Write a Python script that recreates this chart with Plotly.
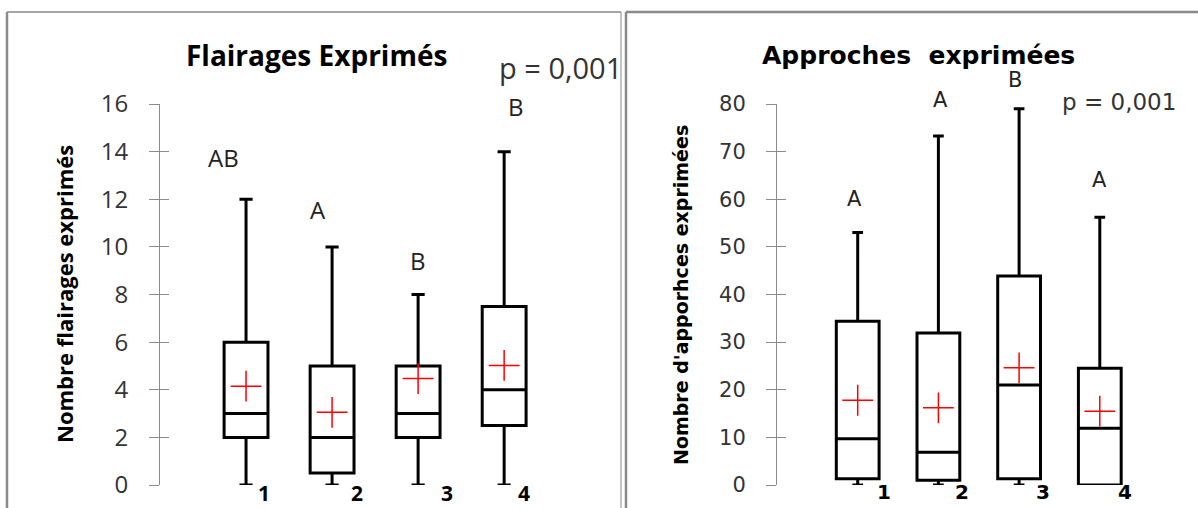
import plotly.graph_objects as go

W, H = 1198, 508

# ---- data: Flairages exprimés ----
groups = ["1", "2", "3", "4"]
fl_min = [0, 0, 0, 0]
fl_q1 = [2, 0.5, 2, 2.5]
fl_med = [3, 2, 3, 4]
fl_q3 = [6, 5, 5, 7.5]
fl_max = [12, 10, 8, 14]
fl_mean = [4.15, 3.05, 4.47, 5.02]
fl_letters = ["AB", "A", "B", "B"]

# ---- data: Approches exprimées ----
ap_min = [0, 0, 0, 0]
ap_q1 = [1.3, 1.0, 1.3, 0]
ap_med = [9.7, 6.9, 21.0, 11.9]
ap_q3 = [34.4, 31.9, 43.9, 24.5]
ap_max = [53, 73.3, 79, 56.2]
ap_mean = [17.8, 16.2, 24.6, 15.5]
ap_letters = ["A", "A", "B", "A"]

p_text = "p = 0,001"
cat_pos = [1, 2, 3, 4]


def px(x):
    return x / W


def py(y):
    return 1 - y / H


fig = go.Figure()

# box traces
for i in range(4):
    fig.add_trace(go.Box(
        x=[cat_pos[i]], q1=[fl_q1[i]], median=[fl_med[i]], q3=[fl_q3[i]],
        lowerfence=[fl_min[i]], upperfence=[fl_max[i]],
        width=0.51, whiskerwidth=0.3,
        fillcolor="white", line=dict(color="black", width=3),
        xaxis="x", yaxis="y", showlegend=False, hoverinfo="skip"))
    fig.add_trace(go.Box(
        x=[cat_pos[i]], q1=[ap_q1[i]], median=[ap_med[i]], q3=[ap_q3[i]],
        lowerfence=[ap_min[i]], upperfence=[ap_max[i]],
        width=0.53, whiskerwidth=0.25,
        fillcolor="white", line=dict(color="black", width=3),
        xaxis="x2", yaxis="y2", showlegend=False, hoverinfo="skip"))

# means as red crosses
mean_marker = dict(symbol="cross-thin", size=22, color="red",
                   line=dict(color="red", width=1.5))
fig.add_trace(go.Scatter(x=cat_pos, y=fl_mean, mode="markers", marker=mean_marker,
                         xaxis="x", yaxis="y", showlegend=False, hoverinfo="skip"))
fig.add_trace(go.Scatter(x=cat_pos, y=ap_mean, mode="markers", marker=mean_marker,
                         xaxis="x2", yaxis="y2", showlegend=False, hoverinfo="skip"))

ydom = [py(485), py(104)]
left_font = "Open Sans"
right_font = "DejaVu Sans"
axis_grey = "#8c8c8c"


def yaxis_cfg(rng, dtick, font, size, side_anchor):
    return dict(range=rng, dtick=dtick, domain=ydom, anchor=side_anchor,
                showgrid=False, zeroline=False, showline=True, automargin=False,
                linecolor=axis_grey, linewidth=1,
                ticks="outside", ticklen=10, tickcolor=axis_grey, tickwidth=1,
                ticklabelstandoff=16,
                tickfont=dict(family=font, size=size, color="#333333"))


def yaxis_inner(rng, dtick, overlay, side_anchor):
    return dict(range=rng, dtick=dtick, domain=ydom, anchor=side_anchor,
                overlaying=overlay, showgrid=False, zeroline=False, showline=False,
                automargin=False,
                ticks="inside", ticklen=9, tickcolor=axis_grey, tickwidth=1,
                showticklabels=False)


def xaxis_cfg(rng, dom):
    return dict(range=rng, domain=dom, visible=False, fixedrange=True, automargin=False)


fig.update_layout(
    width=W, height=H, margin=dict(l=0, r=0, t=0, b=0, autoexpand=False),
    paper_bgcolor="white", plot_bgcolor="white",
    xaxis=xaxis_cfg([0, 5.3], [px(160), px(616)]),
    yaxis=yaxis_cfg([0, 16], 2, left_font, 24, "x"),
    yaxis3=yaxis_inner([0, 16], 2, "y", "x"),
    xaxis2=xaxis_cfg([0, 5.0], [px(777), px(1180.5)]),
    yaxis2=yaxis_cfg([0, 80], 10, right_font, 21, "x2"),
    yaxis4=yaxis_inner([0, 80], 10, "y2", "x2"),
)
# empty traces so the inner tick axes render
fig.add_trace(go.Scatter(x=[None], y=[None], xaxis="x", yaxis="y3", showlegend=False))
fig.add_trace(go.Scatter(x=[None], y=[None], xaxis="x2", yaxis="y4", showlegend=False))

ann = []


def note(x, y, text, family, size, color="black", **kw):
    d = dict(x=px(x), y=py(y), xref="paper", yref="paper", text=text, showarrow=False,
             xanchor="center", yanchor="middle",
             font=dict(family=family, size=size, color=color))
    d.update(kw)
    ann.append(d)


# titles
note(316, 55, "<b>Flairages Exprimés</b>", left_font, 28)
note(918, 55, "<b>Approches  exprimées</b>", right_font, 25)

# axis titles
note(64, 294, "<b>Nombre flairages exprimés</b>", left_font, 22, textangle=-90)
note(681, 295, "<b>Nombre d'apporhces exprimées</b>", right_font, 19, textangle=-90)

# group labels under each box
fl_label_shift = [18, 25, 29, 20]
ap_label_shift = [26, 24, 24, 25]
for i, g in enumerate(groups):
    ann.append(dict(x=cat_pos[i], y=0, xref="x", yref="y", text=f"<b>{g}</b>", showarrow=False,
                    xshift=fl_label_shift[i], yshift=-8,
                    font=dict(family=left_font, size=21, color="black")))
    ann.append(dict(x=cat_pos[i], y=0, xref="x2", yref="y2", text=f"<b>{g}</b>", showarrow=False,
                    xshift=ap_label_shift[i], yshift=-7,
                    font=dict(family=right_font, size=20, color="black")))

# significance letters
fl_letter_px = [(223, 157), (318, 210), (418, 260), (516, 107)]
ap_letter_px = [(854, 199), (940, 100), (1015, 80), (1099, 180)]
for i in range(4):
    note(*fl_letter_px[i], fl_letters[i], left_font, 24, color="#222222")
    note(*ap_letter_px[i], ap_letters[i], right_font, 21, color="#222222")

# p-values
note(497, 67, p_text, left_font, 29, color="#333333", xanchor="left")
note(1119, 102, p_text, right_font, 23, color="#333333")

fig.update_layout(annotations=ann)

# panel frames
frame = "#8a8a8a"
shapes = [
    dict(type="line", xref="paper", yref="paper", x0=px(7), x1=px(7), y0=py(12), y1=py(520),
         line=dict(color=frame, width=2.5)),
    dict(type="line", xref="paper", yref="paper", x0=px(7), x1=px(621), y0=py(12), y1=py(12),
         line=dict(color=frame, width=1.5)),
    dict(type="line", xref="paper", yref="paper", x0=px(621), x1=px(621), y0=py(12), y1=py(520),
         line=dict(color=frame, width=1)),
    dict(type="line", xref="paper", yref="paper", x0=px(626), x1=px(626), y0=py(12), y1=py(520),
         line=dict(color=frame, width=2.5)),
    dict(type="line", xref="paper", yref="paper", x0=px(626), x1=px(1210), y0=py(12), y1=py(12),
         line=dict(color=frame, width=2.5)),
]
fig.update_layout(shapes=shapes)

fig.write_html("out.html")
